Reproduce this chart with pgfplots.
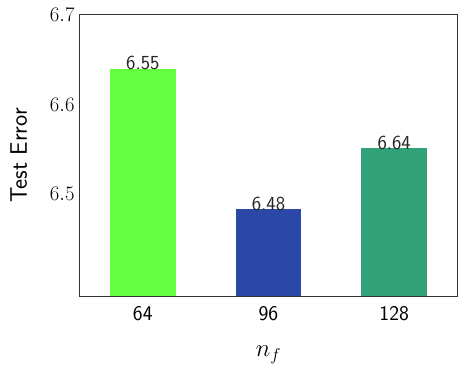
\documentclass[border=0pt]{standalone}
\usepackage{fontspec}
\usepackage{pgfplots}
\pgfplotsset{compat=1.18}
\definecolor{barone}{HTML}{66FF3F}
\definecolor{bartwo}{HTML}{2C48A6}
\definecolor{barthree}{HTML}{31A277}
\begin{document}
\begin{tikzpicture}
  \begin{axis}[
    scale only axis,
    width=377bp, height=281bp,
    xmin=-0.5, xmax=2.5,
    ymin=6.386, ymax=6.7,
    xtick={0,1,2}, xticklabels={64,96,128},
    ytick={6.5,6.6,6.7},
    yticklabel style={/pgf/number format/fixed, /pgf/number format/precision=1,
                      font=\fontsize{20}{24}\selectfont, xshift=-2bp},
    xticklabel style={font=\sffamily\fontsize{21}{25}\selectfont, yshift=-7bp},
    major tick length=0pt,
    axis line style={black!80, line width=1bp},
    xlabel={$n_f$}, ylabel={\sffamily Test Error},
    label style={font=\fontsize{24}{28}\selectfont},
    xlabel style={yshift=-18bp},
    ylabel style={yshift=16bp},
    ybar, bar width=0.524, bar shift=0pt,
    every axis plot/.append style={draw=none},
    point meta=explicit symbolic,
    nodes near coords={\pgfplotspointmeta},
    every node near coord/.append style={anchor=base, yshift=-1bp,
      font=\sffamily\fontsize{20}{23}\selectfont, text=black!85},
  ]
    \addplot[fill=barone] coordinates {(0,6.64) [6.55]};
    \addplot[fill=bartwo] coordinates {(1,6.483) [6.48]};
    \addplot[fill=barthree] coordinates {(2,6.551) [6.64]};
  \end{axis}
  \pgfresetboundingbox
  \path ([shift={(-80bp,-74bp)}]current axis.south west)
        rectangle ([shift={(8bp,15bp)}]current axis.north east);
\end{tikzpicture}
\end{document}
